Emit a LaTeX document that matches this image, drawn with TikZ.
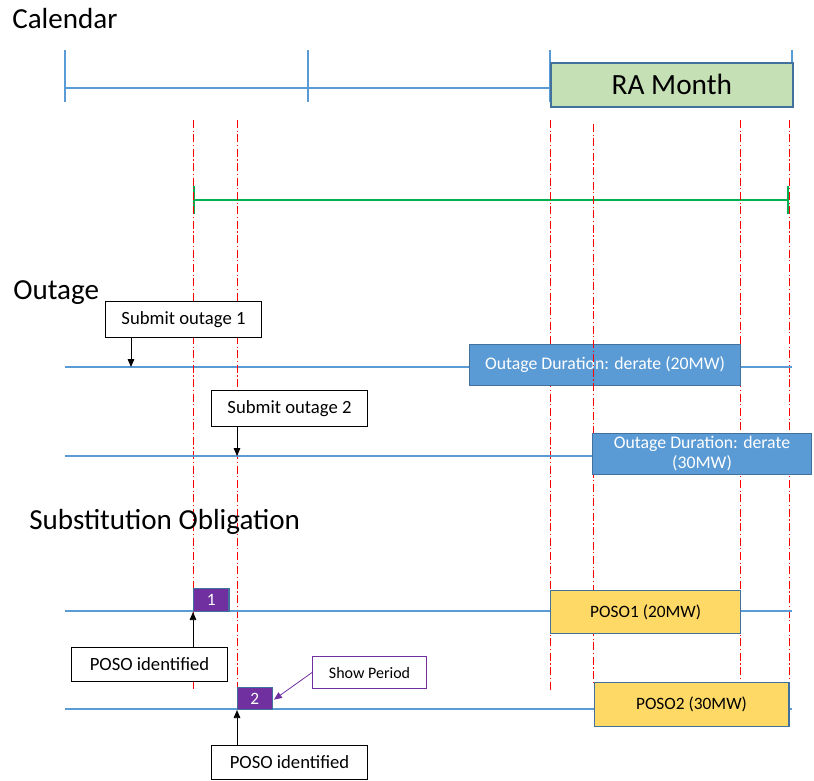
\documentclass[tikz,border=0pt]{standalone}
\usepackage{fontspec}
\setmainfont{Carlito}
\usetikzlibrary{arrows.meta, positioning}
\definecolor{lineBlue}{HTML}{5B9BD5}
\definecolor{edgeBlue}{HTML}{41719C}
\definecolor{raGreen}{HTML}{C5E0B4}
\definecolor{posoYellow}{HTML}{FFD966}
\definecolor{posoPurple}{HTML}{7030A0}
\definecolor{markRed}{HTML}{FF0000}
\definecolor{spanGreen}{HTML}{00B050}
\tikzset{
  arrowK/.style={-{Triangle[length=6pt, width=5pt]}, black, line width=0.6pt},
  arrowP/.style={-{Triangle[length=6pt, width=5pt]}, posoPurple, line width=0.6pt},
  timeLine/.style={lineBlue, line width=1.3pt},
  tickLine/.style={lineBlue, line width=0.9pt},
  redMark/.style={markRed, line width=0.6pt,
                  dash pattern=on 6pt off 2pt on 0.8pt off 2pt},
  secTitle/.style={anchor=base west, inner sep=0pt, font=\fontsize{21.8}{24}\selectfont},
  boxW/.style={rectangle, draw=black, fill=white, line width=0.8pt,
               anchor=north west, inner sep=0pt, font=\fontsize{14}{16}\selectfont},
  boxDur/.style={rectangle, draw=edgeBlue, fill=lineBlue, text=white, line width=0.8pt,
                 anchor=north west, inner sep=0pt, align=center,
                 font=\fontsize{13.3}{15}\selectfont},
  boxPoso/.style={rectangle, draw=edgeBlue, fill=posoYellow, line width=1pt,
                  anchor=north west, inner sep=0pt, font=\fontsize{13}{15}\selectfont},
  boxNum/.style={rectangle, draw=edgeBlue, fill=posoPurple, text=white, line width=0.8pt,
                 anchor=north west, inner sep=0pt, font=\fontsize{13}{15}\selectfont},
}
\begin{document}
\begin{tikzpicture}[x=0.75pt, y=-0.75pt]
  \useasboundingbox (0,0) rectangle (814,781);
  % calendar
  \node[secTitle] (calT) at (12,28.3) {Calendar};
  \coordinate (c0) at (65,88);
  \coordinate (c1) at (550,88);
  \draw[timeLine] (c0) -- (c1);
  \foreach \x in {65,308,550,792}
    \draw[tickLine] (\x,50) -- (\x,102);
  \node[rectangle, draw=edgeBlue, fill=raGreen, line width=1.3pt, anchor=north west,
        minimum width=181.5pt, minimum height=33pt, inner sep=0pt,
        font=\fontsize{22}{24}\selectfont] (ra) at (550,62) {RA Month};
  \coordinate (g0) at (193,200);
  \coordinate (g1) at (789,200);
  \draw[spanGreen, line width=1.2pt, {Bar[width=21pt]}-{Bar[width=21pt]}] (g0) -- (g1);
  % red markers behind the boxes
  \draw[redMark] (550,120) -- (550,690);
  \draw[redMark] (740,120) -- (740,682);
  \draw[redMark] (789,120) -- (789,682);
  % outage
  \node[secTitle] (outT) at (13,299) {Outage};
  \coordinate (o1a) at (65,367);
  \coordinate (o1b) at (792,367);
  \draw[timeLine] (o1a) -- (o1b);
  \node[boxDur, minimum width=203.25pt, minimum height=30.75pt] (dur1) at (469,344)
    {Outage Duration: derate (20MW)};
  \draw[redMark] (593,124) -- (593,682);
  \draw[redMark] (193,120) -- (193,689);
  \draw[redMark] (237,120) -- (237,688);
  \node[boxW, minimum width=117pt, minimum height=27pt] (sub1) at (105,301) {Submit outage 1};
  \coordinate (s1) at (131,367);
  \draw[arrowK] (sub1.south -| s1) -- (s1);
  \coordinate (o2a) at (65,456);
  \node[boxDur, minimum width=164.25pt, minimum height=30.75pt] (dur2) at (592,433)
    {Outage Duration: derate\\(30MW)};
  \draw[timeLine] (o2a) -- (dur2.west |- o2a);
  \node[boxW, minimum width=117pt, minimum height=27pt] (sub2) at (211,390) {Submit outage 2};
  \coordinate (s2) at (237,456);
  \draw[arrowK] (sub2.south -| s2) -- (s2);
  % substitution obligation
  \node[secTitle] (subT) at (29,529) {Substitution Obligation};
  \coordinate (p1a) at (65,611);
  \coordinate (p1b) at (792,611);
  \draw[timeLine] (p1a) -- (p1b);
  \node[boxNum, minimum width=26.6pt, minimum height=17.25pt] (n1) at (193,588) {1};
  \node[boxPoso, minimum width=142.5pt, minimum height=32.25pt] (poso1) at (550,590) {POSO1 (20MW)};
  \node[boxW, minimum width=117pt, minimum height=25.5pt] (id1) at (71,647) {POSO identified};
  \draw[arrowK] (id1.north -| n1.south west) -- (n1.south west);
  \coordinate (p2a) at (65,709);
  \coordinate (p2b) at (792,709);
  \draw[timeLine] (p2a) -- (p2b);
  \node[boxNum, minimum width=25.9pt, minimum height=16.5pt] (n2) at (237,687) {2};
  \node[boxPoso, minimum width=146pt, minimum height=33pt] (poso2) at (593.5,682) {POSO2 (30MW)};
  \node[boxW, minimum width=117pt, minimum height=25.5pt] (id2) at (211,745) {POSO identified};
  \draw[arrowK] (id2.north -| n2.south west) -- (n2.south west);
  \node[rectangle, draw=posoPurple, fill=white, line width=0.8pt, anchor=north west,
        minimum width=85.5pt, minimum height=24pt, inner sep=0pt,
        font=\fontsize{12}{14}\selectfont] (show) at (312,656) {Show Period};
  \draw[arrowP] (show.west) -- ([xshift=1pt, yshift=-2pt]n2.north east |- 0,697);
\end{tikzpicture}
\end{document}
